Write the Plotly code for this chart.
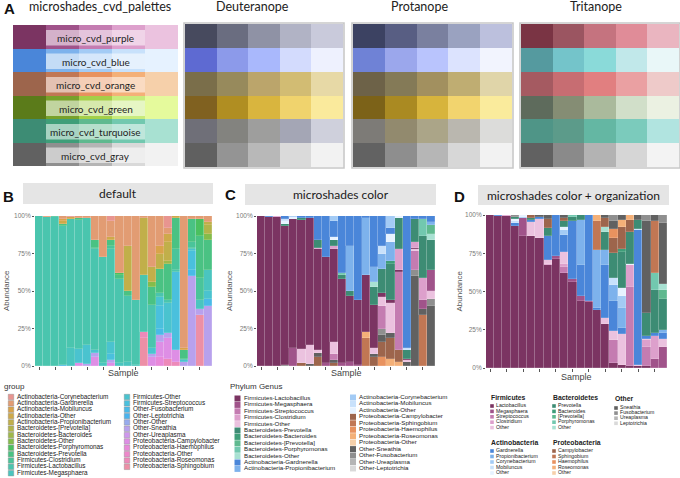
import math
import plotly.graph_objects as go

W, H = 680, 478

# ---------------- Panel A : palette grids ----------------
palette_labels = ["micro_cvd_purple", "micro_cvd_blue", "micro_cvd_orange",
                  "micro_cvd_green", "micro_cvd_turquoise", "micro_cvd_gray"]
panel_a_titles = ["microshades_cvd_palettes", "Deuteranope", "Protanope", "Tritanope"]

micro_purple = ["#7B3462", "#A0538A", "#C47CB1", "#DDA0CC", "#EBC2DF"]
micro_blue = ["#4A86D9", "#7DB2EC", "#A3CBF5", "#C8E1FB", "#E6F2FF"]
micro_orange = ["#9D654C", "#C17754", "#E8925F", "#F4B078", "#F6D0AA"]
micro_green = ["#5B7B1A", "#77A12A", "#A4CF48", "#C8EB7C", "#E5FA9C"]
micro_turquoise = ["#3D8C74", "#3F9E79", "#5FB98F", "#72C8AF", "#A8E1D2"]
micro_gray = ["#616161", "#8F8F8F", "#B5B5B5", "#D9D9D9", "#F2F2F2"]

pal_deuteranope = [
    ["#474A5E", "#6A6D80", "#8F92A5", "#B1B3C5", "#C9CADB"],
    ["#5E6AD2", "#8C9AEA", "#A9B8FC", "#D3DBFD", "#EEF1FE"],
    ["#7A6E4A", "#978A5C", "#BBA56B", "#D2BC73", "#E7D9A6"],
    ["#806120", "#B08E22", "#D9B53E", "#F0D36D", "#FAEA9C"],
    ["#6F6F78", "#83837F", "#9E9E9D", "#A4A6B5", "#CFD0DC"],
    ["#606060", "#949494", "#B8B8B8", "#DADADA", "#F2F2F2"],
]
pal_protanope = [
    ["#3C4262", "#585E83", "#7A809F", "#9AA2C0", "#BCC0DD"],
    ["#6F82D6", "#9BA7EC", "#B9C4FD", "#DCE3FE", "#F2F4FE"],
    ["#6D6248", "#847A57", "#A2905F", "#BFAD72", "#E0D5A9"],
    ["#7C6218", "#AA8A22", "#D7B43C", "#F2D46E", "#FAEB9C"],
    ["#7D7B77", "#928A6E", "#ABA588", "#BAB7AF", "#DCDCDA"],
    ["#626262", "#8E8E8E", "#B6B6B6", "#D7D7D7", "#F2F2F2"],
]
pal_tritanope = [
    ["#7A3444", "#9B5561", "#C5737F", "#E08C98", "#EAB5C0"],
    ["#559A9F", "#74C4CA", "#8ADAD9", "#C1E8EA", "#E9F7F8"],
    ["#A55A61", "#C76D72", "#E17F80", "#EAA0A2", "#EECAC9"],
    ["#5E6B5C", "#858D74", "#AABA9C", "#D1DFC9", "#EBF1E2"],
    ["#4F9587", "#5C9B8A", "#64B7A3", "#7BCBBC", "#B1E4E0"],
    ["#616161", "#8A8A8A", "#B3B3B3", "#D6D6D6", "#F3F3F3"],
]
pal_original = [micro_purple, micro_blue, micro_orange, micro_green, micro_turquoise, micro_gray]

# ---------------- Panels B-D : abundance data (%) ----------------
samples = ["S%d" % i for i in range(1, 23)]

act_corynebacterium = [0, 0, 0, 0, 0.5, 0, 0, 0, 0, 3, 0, 0, 0, 0, 0, 0, 8, 0, 0, 0, 0, 0]
act_gardnerella = [0, 0.5, 0, 2, 0, 1.5, 1, 16, 27, 11, 38, 20, 56, 1, 34, 20, 4, 0, 88, 2, 2, 4]
act_mobiluncus = [0, 0, 0, 1.5, 0, 0, 0, 0, 0, 0, 0, 0, 0, 0, 0, 5, 0, 0, 1, 0, 0, 0]
act_other = [0, 0, 0, 1.5, 1.5, 0, 0, 0, 0, 2, 0, 0, 0, 0, 0, 0, 5, 1, 0, 0, 0, 0]
act_propionibacterium = [0, 0, 0, 0, 0, 0, 0, 0, 0, 0, 0, 30, 0, 38, 10, 10, 13, 0, 0, 0, 0, 2]
bac_bprevotella = [0, 0, 0, 0, 0, 0, 0, 0, 0, 0, 0, 0, 0, 0, 0, 0, 0, 0, 0, 0, 0, 6]
bac_bacteroides = [0, 0, 0, 0, 0, 0, 0, 0, 0, 0, 0, 0, 0, 0, 0, 0, 2, 0, 0, 0, 0, 0]
bac_other = [0, 0, 0, 0, 0, 0, 0, 0, 0, 0, 0, 0, 0, 0, 3, 0, 0, 0, 0, 0, 0, 4]
bac_porphyromonas = [0, 0, 0, 0, 0, 0, 0, 0, 0, 0, 1, 0, 0, 0, 0, 0, 0, 0, 0, 0, 11, 0]
bac_prevotella = [0, 0, 0, 1.5, 0, 1, 0, 5, 0, 4, 3, 3, 0, 0, 12, 16, 24, 21, 6, 15, 28, 20]
fir_clostridium = [0, 0, 0.8, 0, 0, 0, 0, 1, 0, 2, 0, 0, 0, 0, 0, 0, 0, 14, 0, 4, 15, 0]
fir_lactobacillus = [100, 99.5, 99.2, 92.5, 86, 86, 85, 67, 71, 62, 56, 44, 43, 38, 29, 3, 2, 1, 1, 1, 0, 0]
fir_megasphaera = [0, 0, 0, 0, 12, 0, 0, 0, 2, 0, 2, 3, 1, 0, 0, 0, 0, 0, 0, 0, 6, 14]
fir_other = [0, 0, 0, 0, 0, 9.5, 12.5, 2.5, 0, 8, 0, 0, 0, 0, 4, 6, 20, 0, 1, 1, 0, 5]
fir_streptococcus = [0, 0, 0, 0, 0, 0, 0, 0, 0, 4, 0, 0, 0, 0, 0, 15, 0, 52, 0, 13, 0, 0]
oth_fusobacterium = [0, 0, 0, 1, 0, 0, 0, 0, 0, 0, 0, 0, 0, 0, 0, 4, 0, 0, 0, 4, 0, 5]
oth_leptotrichia = [0] * 22
oth_other = [0] * 22
oth_sneathia = [0, 0, 0, 0, 0, 0, 1.5, 2.5, 0, 2, 0, 0, 0, 0, 2, 5, 3, 0, 3, 60, 4, 40]
oth_ureaplasma = [0] * 22
pro_campylobacter = [0, 0, 0, 0, 0, 2, 0, 6, 0, 2, 0, 0, 0, 0, 6, 10, 14, 8, 0, 0, 0, 0]
pro_haemophilus = [0, 0, 0, 0, 0, 0, 0, 0, 0, 0, 0, 0, 0, 0, 0, 6, 0, 0, 0, 0, 0, 0]
pro_other = [0] * 22
pro_roseomonas = [0, 0, 0, 0, 0, 0, 0, 0, 0, 0, 0, 0, 0, 4, 0, 0, 5, 3, 0, 0, 0, 0]
pro_sphingobium = [0, 0, 0, 0, 0, 0, 0, 0, 0, 0, 0, 0, 0, 19, 0, 0, 0, 0, 0, 0, 34, 0]

abund = {
    "Actinobacteria-Corynebacterium": act_corynebacterium,
    "Actinobacteria-Gardnerella": act_gardnerella,
    "Actinobacteria-Mobiluncus": act_mobiluncus,
    "Actinobacteria-Other": act_other,
    "Actinobacteria-Propionibacterium": act_propionibacterium,
    "Bacteroidetes-[Prevotella]": bac_bprevotella,
    "Bacteroidetes-Bacteroides": bac_bacteroides,
    "Bacteroidetes-Other": bac_other,
    "Bacteroidetes-Porphyromonas": bac_porphyromonas,
    "Bacteroidetes-Prevotella": bac_prevotella,
    "Firmicutes-Clostridium": fir_clostridium,
    "Firmicutes-Lactobacillus": fir_lactobacillus,
    "Firmicutes-Megasphaera": fir_megasphaera,
    "Firmicutes-Other": fir_other,
    "Firmicutes-Streptococcus": fir_streptococcus,
    "Other-Fusobacterium": oth_fusobacterium,
    "Other-Leptotrichia": oth_leptotrichia,
    "Other-Other": oth_other,
    "Other-Sneathia": oth_sneathia,
    "Other-Ureaplasma": oth_ureaplasma,
    "Proteobacteria-Campylobacter": pro_campylobacter,
    "Proteobacteria-Haemophilus": pro_haemophilus,
    "Proteobacteria-Other": pro_other,
    "Proteobacteria-Roseomonas": pro_roseomonas,
    "Proteobacteria-Sphingobium": pro_sphingobium,
}
groups_alpha = list(abund.keys())

phylum_genera = {
    "Firmicutes": ["Lactobacillus", "Megasphaera", "Streptococcus", "Clostridium", "Other"],
    "Bacteroidetes": ["Prevotella", "Bacteroides", "[Prevotella]", "Porphyromonas", "Other"],
    "Actinobacteria": ["Gardnerella", "Propionibacterium", "Corynebacterium", "Mobiluncus", "Other"],
    "Proteobacteria": ["Campylobacter", "Sphingobium", "Haemophilus", "Roseomonas", "Other"],
    "Other": ["Sneathia", "Fusobacterium", "Ureaplasma", "Leptotrichia"],
}
phylum_shades = {"Firmicutes": micro_purple, "Bacteroidetes": micro_turquoise,
                 "Actinobacteria": micro_blue, "Proteobacteria": micro_orange,
                 "Other": micro_gray}
d_stack_order = ["Firmicutes", "Actinobacteria", "Bacteroidetes", "Proteobacteria", "Other"]
c_legend_order = ["Firmicutes", "Bacteroidetes", "Actinobacteria", "Proteobacteria", "Other"]


# ---------------- helpers ----------------
def hcl_hex(h, c=100.0, l=65.0, wash=0.36, wash_to=205):
    """ggplot2 hue_pal colour, washed toward light grey like the reference image."""
    hr = math.radians(h)
    U, V = c * math.cos(hr), c * math.sin(hr)
    Xn, Yn, Zn = 95.047, 100.0, 108.883
    den = Xn + 15 * Yn + 3 * Zn
    un, vn = 4 * Xn / den, 9 * Yn / den
    Y = Yn * ((l + 16) / 116) ** 3
    u = U / (13 * l) + un
    v = V / (13 * l) + vn
    X = 9 * Y * u / (4 * v)
    Z = Y * (12 - 3 * u - 20 * v) / (4 * v)
    X, Y, Z = X / 100, Y / 100, Z / 100
    rgb = [3.2404542 * X - 1.5371385 * Y - 0.4985314 * Z,
           -0.9692660 * X + 1.8760108 * Y + 0.0415560 * Z,
           0.0556434 * X - 0.2040259 * Y + 1.0572252 * Z]
    out = []
    for ch in rgb:
        ch = 12.92 * ch if ch <= 0.0031308 else 1.055 * (max(ch, 0) ** (1 / 2.4)) - 0.055
        ch = min(max(ch, 0), 1) * 255
        ch = ch + (wash_to - ch) * wash
        out.append(int(round(min(max(ch, 0), 255))))
    return "#%02X%02X%02X" % tuple(out)


n_groups = len(groups_alpha)
hue_colors = {g: hcl_hex(15 + 360 * i / n_groups) for i, g in enumerate(groups_alpha)}


def micro_color(full):
    ph, gen = full.split("-", 1)
    gl = phylum_genera[ph]
    idx = gl.index(gen) if gen in gl else 4
    return phylum_shades[ph][idx]


def px_x(p):
    return p / W


def px_y(p):
    return 1 - p / H


def xdom(a, b):
    return [a / W, b / W]


def ydom(top, bottom):
    return [1 - bottom / H, 1 - top / H]


def note(text, x, y, size, family, color="#222", xanchor="center", angle=0, xref="paper", yref="paper"):
    return dict(text=text, x=x, y=y, xref=xref, yref=yref, showarrow=False,
                xanchor=xanchor, yanchor="middle", textangle=angle,
                font=dict(family=family, size=size, color=color))


fig = go.Figure()
layout = dict(template="none", width=W, height=H, margin=dict(l=0, r=0, t=0, b=0, pad=0),
              paper_bgcolor="white", plot_bgcolor="rgba(0,0,0,0)",
              barmode="stack", bargap=0, showlegend=False)
shapes = []
annotations = []
FA = "Lato"
FG = "Liberation Sans"

# ---------------- Panel A drawing ----------------
grid_boxes = [(13, 178, 25, 166), (185, 343, 24, 167), (353, 512, 24, 167), (521, 679, 24, 167)]
grid_pals = [pal_original, pal_deuteranope, pal_protanope, pal_tritanope]
title_x = [100, 252, 419, 596]
for gi, (box, pal) in enumerate(zip(grid_boxes, grid_pals)):
    n = gi + 1
    xa = "xaxis" if n == 1 else "xaxis%d" % n
    ya = "yaxis" if n == 1 else "yaxis%d" % n
    layout[xa] = dict(domain=xdom(box[0], box[1]), anchor="y" if n == 1 else "y%d" % n,
                      range=[-0.5, 4.5], visible=False, fixedrange=True, automargin=False)
    layout[ya] = dict(domain=ydom(box[2], box[3]), anchor="x" if n == 1 else "x%d" % n,
                      range=[5.5, -0.5], visible=False, fixedrange=True, automargin=False)
    flat = [c for row in pal for c in row]
    ncol = len(flat)
    cs = []
    for k, col in enumerate(flat):
        cs.append([k / ncol, col])
        cs.append([(k + 1) / ncol, col])
    z = [[r * 5 + c for c in range(5)] for r in range(len(pal))]
    fig.add_trace(go.Heatmap(z=z, x=list(range(5)), y=list(range(len(pal))),
                             colorscale=cs, zmin=-0.5, zmax=ncol - 0.5, showscale=False,
                             hoverinfo="skip",
                             xaxis="x" if n == 1 else "x%d" % n,
                             yaxis="y" if n == 1 else "y%d" % n))
    if gi > 0:
        shapes.append(dict(type="rect", xref="paper", yref="paper",
                           x0=px_x(box[0] - 1), x1=px_x(box[1] + 1),
                           y0=px_y(box[3] + 1), y1=px_y(box[2] - 1),
                           line=dict(color="#C8C8C8", width=1.6), fillcolor="rgba(0,0,0,0)"))
    annotations.append(note(panel_a_titles[gi], px_x(title_x[gi]), px_y(7), 12.5, FA))

for r, lab in enumerate(palette_labels):
    shapes.append(dict(type="rect", xref="x", yref="y", x0=0.5, x1=3.5,
                       y0=r - 0.29, y1=r + 0.37, line=dict(width=0),
                       fillcolor="rgba(255,255,255,0.55)"))
    annotations.append(note(lab, 2, r + 0.06, 10, FA, "#1E1E1E", xref="x", yref="y"))

annotations.append(note("<b>A</b>", px_x(9), px_y(8), 15, FG, "#111"))

# ---------------- Panels B, C, D ----------------
panels = [
    (5, 35, 212, 216, 366, (23, 213, 183, 204), "default", (8, 196), 6, (123, 373), "B"),
    (6, 257, 435, 216, 366, (245, 436, 184, 205), "microshades color", (230, 194), 229, (346, 373), "C"),
    (7, 486, 667, 215, 368, (478, 669, 185, 205), "microshades color + organization", (459, 196), 459, (576, 377), "D"),
]
for (n, x0, x1, yt, yb, strip, stext, letter, abx, samp, L) in panels:
    layout["xaxis%d" % n] = dict(domain=xdom(x0, x1), anchor="y%d" % n, type="category",
                                 range=[-0.5, len(samples) - 0.5], showticklabels=False,
                                 ticks="outside", ticklen=2.5, tickwidth=0.8, tickcolor="#555",
                                 showgrid=False, zeroline=False, showline=False, fixedrange=True,
                                 automargin=False)
    layout["yaxis%d" % n] = dict(domain=ydom(yt, yb), anchor="x%d" % n, range=[0, 1],
                                 tickvals=[0, 0.25, 0.5, 0.75, 1],
                                 ticktext=["0%", "25%", "50%", "75%", "100%"],
                                 ticks="outside", ticklen=2, tickwidth=0.8, tickcolor="#555",
                                 tickfont=dict(family=FG, size=6.5, color="#7A7A7A"),
                                 showgrid=False, zeroline=False, showline=False, fixedrange=True,
                                 automargin=False)
    shapes.append(dict(type="rect", xref="paper", yref="paper",
                       x0=px_x(strip[0]), x1=px_x(strip[1]), y0=px_y(strip[3]), y1=px_y(strip[2]),
                       line=dict(width=0), fillcolor="#E5E5E5", layer="below"))
    annotations.append(note(stext, px_x((strip[0] + strip[1]) / 2), px_y((strip[2] + strip[3]) / 2),
                            12, FA, "#1A1A1A"))
    annotations.append(note("<b>%s</b>" % L, px_x(letter[0]), px_y(letter[1]), 15, FG, "#111"))
    annotations.append(note("Abundance", px_x(abx), px_y((yt + yb) / 2), 8, FG, "#555", angle=-90))
    annotations.append(note("Sample", px_x(samp[0]), px_y(samp[1]), 9, FG, "#444"))

bar_line = dict(width=0.5, color="rgba(255,255,255,0.3)")
for g in reversed(groups_alpha):
    vals = [v / 100 for v in abund[g]]
    fig.add_trace(go.Bar(x=samples, y=vals, marker=dict(color=hue_colors[g], line=bar_line),
                         xaxis="x5", yaxis="y5", hoverinfo="skip"))
for g in reversed(groups_alpha):
    vals = [v / 100 for v in abund[g]]
    fig.add_trace(go.Bar(x=samples, y=vals, marker=dict(color=micro_color(g), line=bar_line),
                         xaxis="x6", yaxis="y6", hoverinfo="skip"))
for ph in d_stack_order:
    for gen in phylum_genera[ph]:
        full = ph + "-" + gen
        vals = [v / 100 for v in abund[full]]
        fig.add_trace(go.Bar(x=samples, y=vals, marker=dict(color=micro_color(full), line=bar_line),
                             xaxis="x7", yaxis="y7", hoverinfo="skip"))

# ---------------- legends (overlay axis in pixel units) ----------------
layout["xaxis8"] = dict(domain=[0, 1], anchor="y8", range=[0, W], visible=False, fixedrange=True,
                        automargin=False)
layout["yaxis8"] = dict(domain=[0, 1], anchor="x8", range=[H, 0], visible=False, fixedrange=True,
                        automargin=False)


def legend_column(names, labels, colors, x_sw, x_txt, y0, dy, size_sw, fsize, outline):
    ys = [y0 + i * dy for i in range(len(names))]
    fig.add_trace(go.Scatter(x=[x_sw] * len(names), y=ys, mode="markers",
                             marker=dict(symbol="square", size=size_sw, color=colors,
                                         line=dict(width=0.4 if outline else 0, color="#888")),
                             xaxis="x8", yaxis="y8", hoverinfo="skip", cliponaxis=False))
    fig.add_trace(go.Scatter(x=[x_txt] * len(names), y=ys, mode="text", text=labels,
                             textposition="middle right",
                             textfont=dict(family=FG, size=fsize, color="#222"),
                             xaxis="x8", yaxis="y8", hoverinfo="skip", cliponaxis=False))


annotations.append(note("group", px_x(2), px_y(386), 8, FG, "#333", xanchor="left"))
b_left, b_right = groups_alpha[:13], groups_alpha[13:]
legend_column(b_left, b_left, [hue_colors[g] for g in b_left], 11, 17, 397, 6.35, 5.5, 6.4, True)
legend_column(b_right, b_right, [hue_colors[g] for g in b_right], 127, 133, 397, 6.35, 5.5, 6.4, True)

c_names = [ph + "-" + gen for ph in c_legend_order for gen in phylum_genera[ph]]
annotations.append(note("Phylum Genus", px_x(228), px_y(386), 8, FG, "#333", xanchor="left"))
c_left, c_right = c_names[:12], c_names[12:]
legend_column(c_left, c_left, [micro_color(g) for g in c_left], 237.5, 244, 398.5, 6.4, 6, 6.2, False)
legend_column(c_right, c_right, [micro_color(g) for g in c_right], 353, 359, 397.5, 6.45, 6, 6.2, False)

d_legend_pos = {
    "Firmicutes": (489, 397, 406, 5.4),
    "Bacteroidetes": (551, 397, 406, 5.4),
    "Other": (613, 398, 408, 5.1),
    "Actinobacteria": (489, 442, 451, 5.5),
    "Proteobacteria": (551, 442, 451, 5.5),
}
for ph, (hx, hy, iy, dy) in d_legend_pos.items():
    annotations.append(note("<b>%s</b>" % ph, px_x(hx), px_y(hy), 6.8, FG, "#222", xanchor="left"))
    gens = phylum_genera[ph]
    fulls = [ph + "-" + g for g in gens]
    legend_column(fulls, gens, [micro_color(f) for f in fulls], hx + 3, hx + 7, iy, dy, 3.6, 5.2, False)

layout["shapes"] = shapes
layout["annotations"] = annotations
fig.update_layout(**layout)
fig.write_html("out.html", config={"displayModeBar": False},
               post_script="document.body.style.margin='0px';")
